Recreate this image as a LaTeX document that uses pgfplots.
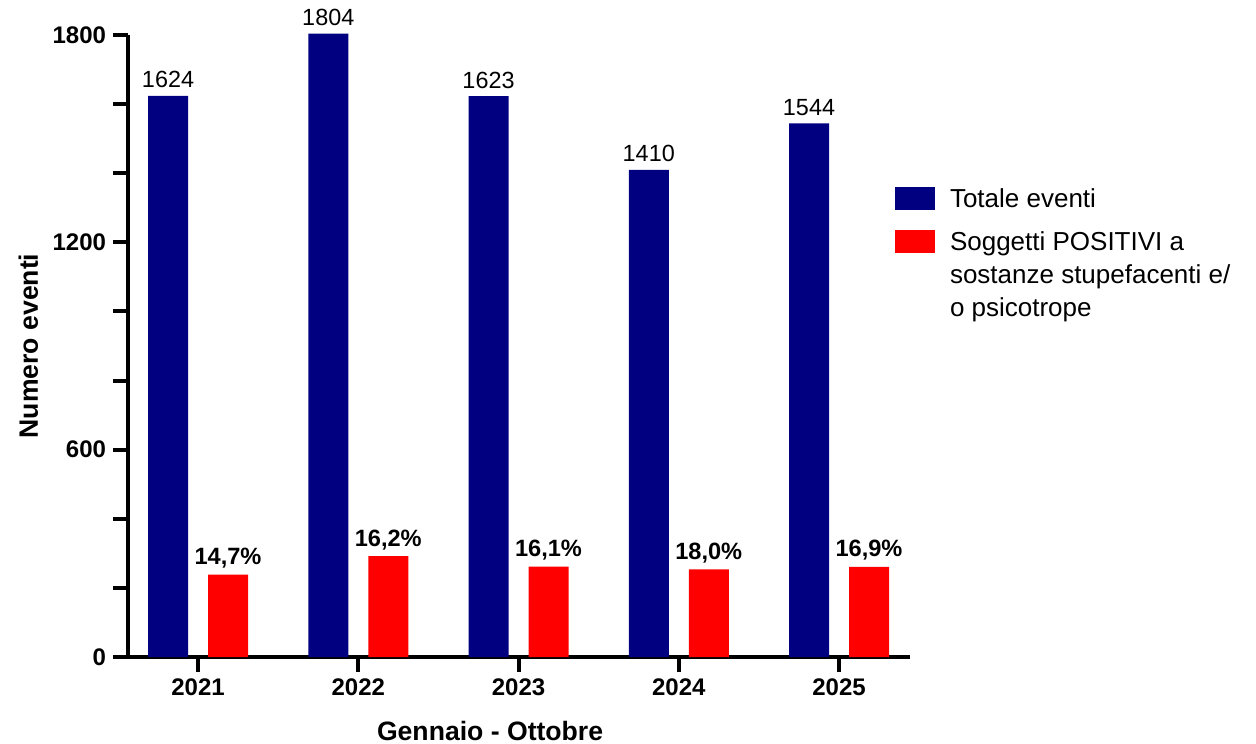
\documentclass[border=0pt]{standalone}
\usepackage{fontspec}
\setmainfont{Liberation Sans}
\usepackage{pgfplots}
\pgfplotsset{compat=1.18}
\definecolor{navyb}{RGB}{0,0,128}
\definecolor{redb}{RGB}{255,0,0}
\begin{document}
\begin{tikzpicture}
\begin{axis}[
  scale only axis, width=391bp, height=311bp,
  xmin=-0.437, xmax=4.443, ymin=0, ymax=1800,
  clip=false,
  axis x line=bottom, axis y line=left,
  axis line style={line width=2bp, -},
  ybar=10bp, bar width=20bp,
  xtick={0,1,2,3,4}, xticklabels={2021,2022,2023,2024,2025},
  ytick={0,600,1200,1800}, yticklabels={0,600,1200,1800},
  minor ytick={200,400,800,1000,1400,1600},
  tick align=outside, major tick length=7.5bp, minor tick length=7.5bp,
  every tick/.style={black, line width=2bp},
  minor tick style={black, line width=2bp},
  major tick style={black, line width=2bp},
  tick label style={font=\fontsize{12bp}{14bp}\selectfont\bfseries},
  xlabel={Gennaio - Ottobre},
  ylabel={Numero eventi},
  xlabel style={at={([yshift=-41.5bp]rel axis cs:0.463,0)}, anchor=base, inner sep=0pt, font=\fontsize{13.3bp}{16bp}\selectfont\bfseries},
  ylabel style={at={([xshift=-45bp]rel axis cs:0,0.5)}, anchor=base, inner sep=0pt, font=\fontsize{13.3bp}{16bp}\selectfont\bfseries},
  legend image code/.code={\fill[#1] (0bp,-5bp) rectangle (20bp,6.5bp);},
  legend style={at={([xshift=383.5bp,yshift=-76bp]rel axis cs:0,1)}, anchor=north west,
    draw=none, fill=none, inner sep=0pt, outer sep=0pt, row sep=9.5bp, column sep=7.5bp,
    font=\fontsize{13bp}{16.5bp}\selectfont, nodes={inner sep=0pt}},
  legend cell align=left,
]
\addplot[fill=navyb, draw=none, nodes near coords, point meta=explicit symbolic,
  every node near coord/.append style={font=\fontsize{11.7bp}{14bp}\selectfont, anchor=base, inner sep=0pt, yshift=4bp, black}]
  coordinates {(0,1624)[1624] (1,1804)[1804] (2,1623)[1623] (3,1410)[1410] (4,1544)[1544]};
\addlegendentry{Totale eventi}
\addplot[fill=redb, draw=none, nodes near coords, point meta=explicit symbolic,
  every node near coord/.append style={font=\fontsize{11.8bp}{14bp}\selectfont\bfseries, anchor=base, inner sep=0pt, yshift=5bp, black}]
  coordinates {(0,238.7)[14,7\%] (1,292.2)[16,2\%] (2,261.3)[16,1\%] (3,253.8)[18,0\%] (4,260.9)[16,9\%]};
\addlegendentry{\vtop{\hbox{Soggetti POSITIVI a}\hbox{sostanze stupefacenti e/}\hbox{o psicotrope}}}
\coordinate (SW) at (rel axis cs:0,0);
\end{axis}
\pgfresetboundingbox
\path[use as bounding box] ([shift={(-64bp,-43.5bp)}]SW) rectangle ++(628bp,372bp);
\end{tikzpicture}
\end{document}
